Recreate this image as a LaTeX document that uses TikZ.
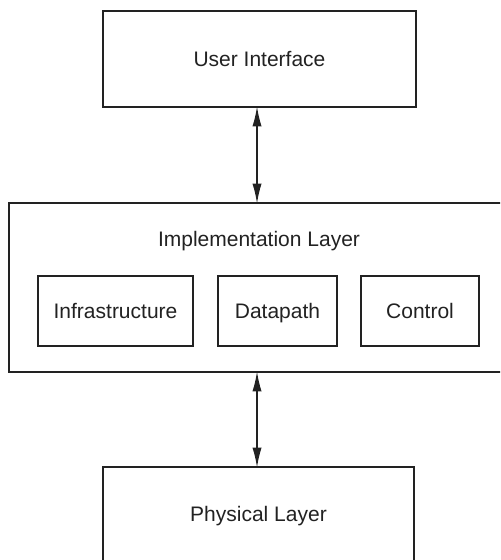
\documentclass[tikz,border=0pt]{standalone}
\usepackage{fontspec}
\setmainfont{Liberation Sans}
\usetikzlibrary{arrows.meta}
\definecolor{ink}{HTML}{222222}
\begin{document}
\begin{tikzpicture}[x=0.5pt,y=-0.5pt,
  box/.style={draw=ink, line width=0.65pt, inner sep=0pt, outer sep=0pt, text=ink,
    text height=7.6pt, text depth=0pt,
    font=\fontsize{10.5pt}{12pt}\selectfont},
  lbl/.style={inner sep=0pt, text=ink, text height=7.6pt, text depth=0pt,
    font=\fontsize{10.5pt}{12pt}\selectfont},
  link/.style={draw=ink, line width=0.7pt, shorten <=-0.3pt, shorten >=-0.3pt,
    {Latex[length=10pt,width=4.6pt]}-{Latex[length=10pt,width=4.6pt]}}]
\clip (0,0) rectangle (500,560);
\fill[white] (0,0) rectangle (500,560);
\node[box, minimum width=156.5pt, minimum height=48pt] (ui) at (259.5,59) {User Interface};
\node[box, minimum width=250pt, minimum height=84.5pt] (impl) at (259,287.5) {};
\node[lbl] (impltext) at (259,239) {Implementation Layer};
\node[box, minimum width=77.5pt, minimum height=35pt] (infra) at (115.5,311) {Infrastructure};
\node[box, minimum width=59.5pt, minimum height=35pt] (data) at (277.5,311) {Datapath};
\node[box, minimum width=59pt, minimum height=35pt] (ctrl) at (420,311) {Control};
\node[box, minimum width=155.5pt, minimum height=47pt] (phys) at (258.5,514) {Physical Layer};
\coordinate (ax) at (257,0);
\draw[link] (ax |- ui.south) -- (ax |- impl.north);
\draw[link] (ax |- impl.south) -- (ax |- phys.north);
\end{tikzpicture}
\end{document}
